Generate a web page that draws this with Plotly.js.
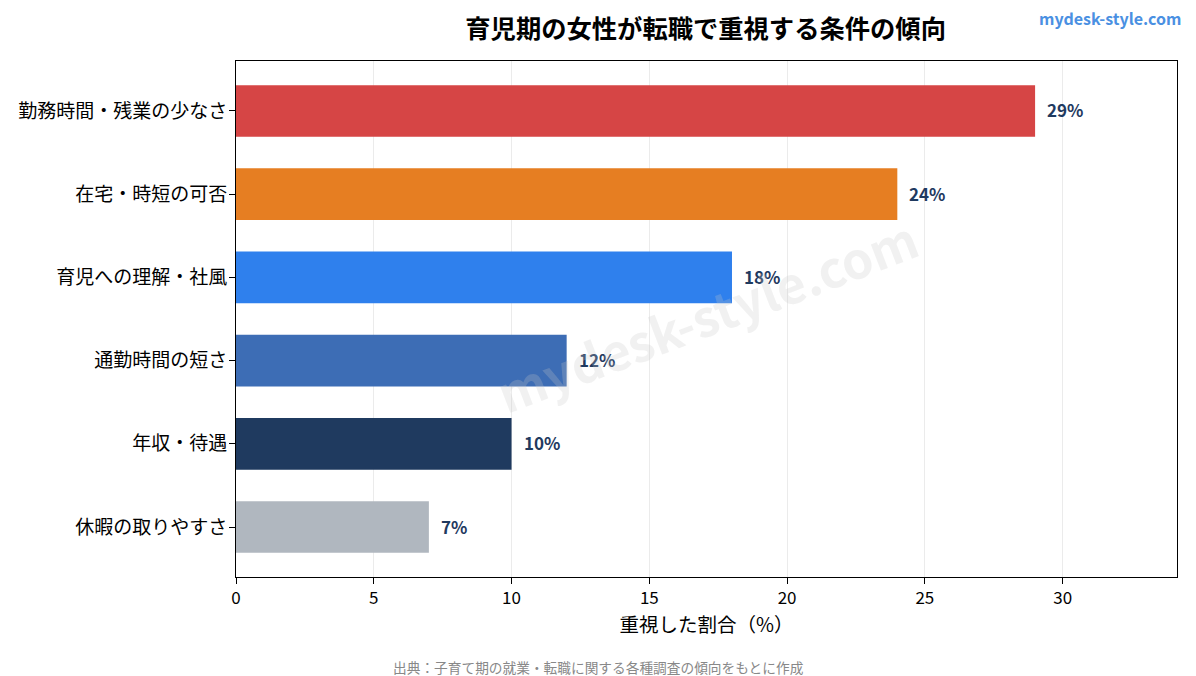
<!DOCTYPE html>
<html>
<head>
<meta charset="utf-8">
<script src="https://cdn.plot.ly/plotly-3.0.1.min.js"></script>
<style>body{margin:0;padding:0;background:#fff;} #chart{width:1196px;height:676px;}</style>
</head>
<body>
<div id="chart"></div>
<script>
const categories = ["勤務時間・残業の少なさ", "在宅・時短の可否", "育児への理解・社風", "通勤時間の短さ", "年収・待遇", "休暇の取りやすさ"];
const values = [29, 24, 18, 12, 10, 7];
const valueLabels = ["29%", "24%", "18%", "12%", "10%", "7%"];
const barColors = ["#d64545", "#e67e22", "#2f80ed", "#3d6db5", "#1f3a5f", "#b0b7bf"];
const xTicks = [0, 5, 10, 15, 20, 25, 30];

const FONT = "'Noto Sans CJK JP', 'Noto Sans', sans-serif";

const trace = {
  type: "bar",
  orientation: "h",
  x: values,
  y: categories,
  marker: {color: barColors},
  width: 0.62,
  hoverinfo: "none"
};

const annotations = values.map((v, i) => ({
  x: v, y: categories[i], xref: "x", yref: "y",
  text: "<b>" + valueLabels[i] + "</b>",
  showarrow: false, xanchor: "left", yanchor: "middle", xshift: 10, yshift: 1,
  font: {family: FONT, size: 17, color: "#1f3a5f"}
}));

annotations.push({
  xref: "paper", yref: "paper", x: 1.006, y: 1.083, xanchor: "right", yanchor: "middle",
  text: "<b>mydesk-style.com</b>", showarrow: false,
  font: {family: FONT, size: 16, color: "#4a90e2"}
});
annotations.push({
  xref: "paper", yref: "paper", x: 0.3847, y: -0.1744, xanchor: "center", yanchor: "middle",
  text: "出典：子育て期の就業・転職に関する各種調査の傾向をもとに作成", showarrow: false,
  font: {family: FONT, size: 13.7, color: "#888888"}
});
annotations.push({
  xref: "paper", yref: "paper", x: 0.5, y: 0.51, xanchor: "center", yanchor: "middle",
  text: "<b>mydesk-style.com</b>", showarrow: false, textangle: -21,
  font: {family: FONT, size: 50, color: "rgba(200,200,200,0.25)"}
});

const layout = {
  width: 1196, height: 676,
  margin: {l: 236, r: 19, t: 61, b: 99},
  paper_bgcolor: "#ffffff", plot_bgcolor: "#ffffff",
  font: {family: FONT, color: "#000000"},
  title: {
    text: "<b>育児期の女性が転職で重視する条件の傾向</b>",
    font: {family: FONT, size: 25.3, color: "#000000"},
    x: 0.59, xanchor: "center", y: 0.957, yanchor: "middle"
  },
  showlegend: false,
  bargap: 0.38,
  xaxis: {
    range: [0, 34.15],
    tickvals: xTicks,
    ticktext: xTicks.map(String),
    ticks: "outside", ticklen: 6, tickcolor: "#000",
    tickfont: {family: FONT, size: 17, color: "#000"},
    showgrid: true, gridcolor: "#ebebeb", gridwidth: 1,
    zeroline: false,
    showline: true, linecolor: "#000", linewidth: 1, mirror: true,
    title: {text: "重視した割合（%）", font: {family: FONT, size: 19.5, color: "#000"}, standoff: 6}
  },
  yaxis: {
    categoryorder: "array", categoryarray: categories,
    autorange: false, range: [5.6, -0.6],
    ticks: "outside", ticklen: 6, tickcolor: "#000",
    tickfont: {family: FONT, size: 19, color: "#000"},
    ticklabelstandoff: -2,
    showgrid: false, zeroline: false,
    showline: true, linecolor: "#000", linewidth: 1, mirror: true
  },
  annotations: annotations
};

Plotly.newPlot("chart", [trace], layout, {displayModeBar: false, staticPlot: true});
</script>
</body>
</html>
